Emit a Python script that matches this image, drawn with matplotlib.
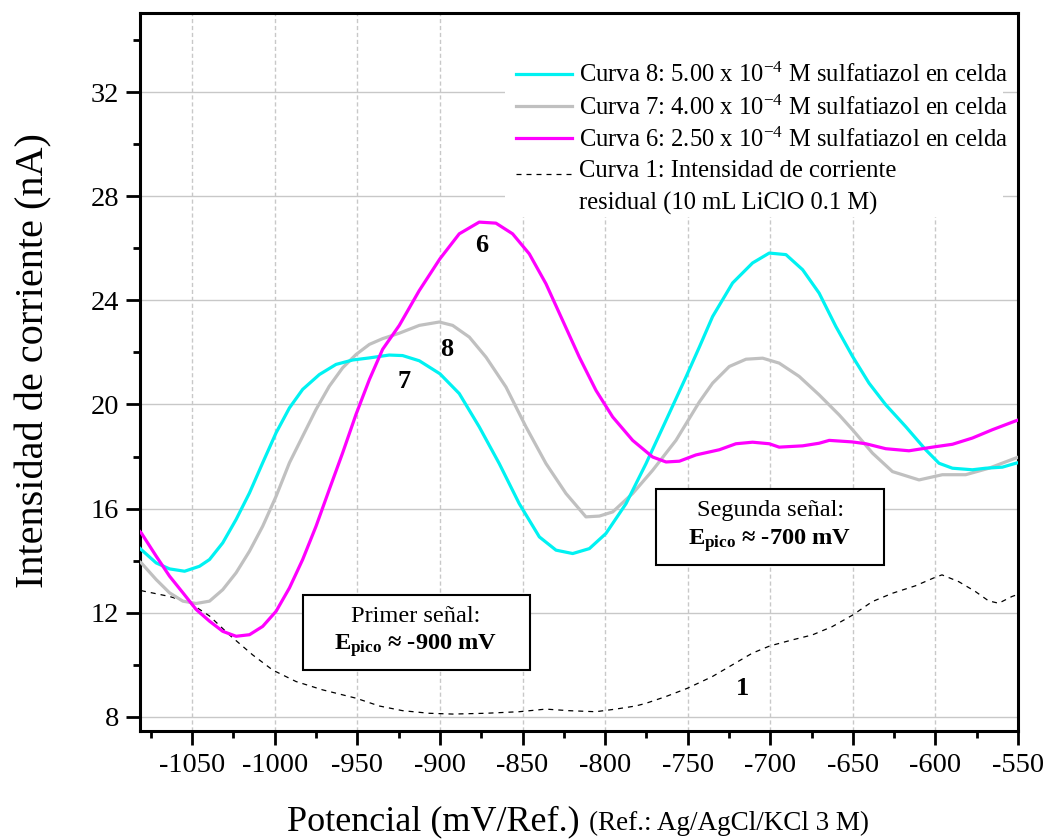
import matplotlib
matplotlib.use('Agg')
import matplotlib.pyplot as plt
from matplotlib.ticker import MultipleLocator
from matplotlib.patches import Rectangle
from matplotlib.offsetbox import TextArea, VPacker, HPacker, DrawingArea, AnnotationBbox

plt.rcParams['font.family'] = ['Liberation Serif', 'DejaVu Serif']
plt.rcParams['mathtext.fontset'] = 'custom'
plt.rcParams['mathtext.rm'] = 'Liberation Serif'
plt.rcParams['mathtext.bf'] = 'Liberation Serif:bold'
plt.rcParams['mathtext.it'] = 'Liberation Serif:italic'
plt.rcParams['axes.unicode_minus'] = False

# curva 8 (5.00e-4 M)
x8 = [-1083, -1080.8, -1071.8, -1063.7, -1054.6, -1045.6, -1039.5, -1031.5, -1023.4, -1015.3,
      -1007.3, -999.2, -991.1, -983.1, -973.0, -962.9, -952.8, -942.7, -930.7, -922.6,
      -912.5, -900, -888.3, -876.2, -864.1, -852.0, -839.8, -829.7, -819.6, -809.5,
      -799.5, -787.3, -775.2, -763.1, -751.0, -742.9, -734.9, -722.8, -710.7, -700.6,
      -690.5, -680.4, -670.4, -660.3, -650.2, -640.2, -630.1, -618.0, -605.9, -597.8,
      -589.7, -577.6, -569.6, -559.5, -551.4, -550]
y8 = [14.55, 14.42, 13.91, 13.68, 13.59, 13.78, 14.04, 14.68, 15.58, 16.60,
      17.76, 18.91, 19.87, 20.58, 21.15, 21.54, 21.71, 21.79, 21.90, 21.88,
      21.68, 21.18, 20.42, 19.14, 17.73, 16.19, 14.91, 14.40, 14.27, 14.46,
      15.04, 16.19, 17.73, 19.39, 21.06, 22.21, 23.38, 24.67, 25.44, 25.82,
      25.76, 25.18, 24.28, 23.00, 21.85, 20.82, 19.99, 19.15, 18.26, 17.74,
      17.55, 17.49, 17.55, 17.59, 17.74, 17.76]

# curva 7 (4.00e-4 M)
x7 = [-1083, -1080.8, -1071.8, -1063.7, -1055.6, -1047.6, -1039.5, -1031.5, -1023.4, -1015.3,
      -1007.3, -999.2, -991.1, -983.1, -975.0, -967.0, -958.9, -950.8, -942.7, -934.7,
      -924.6, -912.5, -900.4, -892.3, -882.2, -872.1, -860.0, -847.9, -835.8, -823.7,
      -811.6, -803.5, -795.4, -783.3, -771.2, -757.1, -742.9, -734.9, -724.8, -714.7,
      -704.6, -694.6, -682.5, -670.4, -658.3, -650.2, -638.1, -626.0, -609.9, -595.8,
      -581.7, -567.6, -551.4, -550]
y7 = [14.0, 13.91, 13.27, 12.76, 12.44, 12.35, 12.44, 12.88, 13.53, 14.36,
      15.32, 16.47, 17.76, 18.78, 19.81, 20.70, 21.41, 21.92, 22.31, 22.53,
      22.74, 23.04, 23.17, 23.04, 22.59, 21.82, 20.67, 19.14, 17.73, 16.58,
      15.68, 15.71, 15.87, 16.58, 17.47, 18.62, 20.10, 20.82, 21.46, 21.74,
      21.78, 21.59, 21.08, 20.37, 19.60, 19.03, 18.13, 17.42, 17.10, 17.30,
      17.30, 17.55, 17.94, 17.97]

# curva 6 (2.50e-4 M)
x6 = [-1083, -1080.8, -1071.8, -1063.7, -1055.6, -1047.6, -1039.5, -1031.5, -1023.4, -1015.3,
      -1007.3, -999.2, -991.1, -983.1, -975.0, -967.0, -958.9, -950.8, -942.7, -934.7,
      -924.6, -912.5, -900, -888.3, -876.2, -866.1, -856.0, -845.9, -835.8, -825.7,
      -815.6, -805.5, -795.4, -783.3, -771.2, -763.1, -755.0, -745.0, -730.8, -720.8,
      -710.7, -700.6, -694.6, -680.4, -670.4, -664.3, -650.2, -642.1, -630.1, -616.0,
      -601.8, -589.7, -577.6, -565.5, -551.4, -550]
y6 = [15.2, 15.06, 14.17, 13.40, 12.76, 12.12, 11.67, 11.28, 11.09, 11.15,
      11.47, 12.05, 12.95, 14.04, 15.32, 16.73, 18.14, 19.62, 20.96, 22.12,
      23.04, 24.38, 25.60, 26.56, 27.01, 26.97, 26.56, 25.79, 24.64, 23.23,
      21.82, 20.54, 19.52, 18.62, 17.98, 17.79, 17.82, 18.06, 18.26, 18.49,
      18.55, 18.49, 18.36, 18.41, 18.51, 18.62, 18.56, 18.49, 18.30, 18.22,
      18.36, 18.47, 18.71, 19.03, 19.37, 19.40]

# curva 1 (corriente residual)
x1 = [-1081, -1079.8, -1063.7, -1051.6, -1039.5, -1027.4, -1013.3, -1001.2, -987.1, -971.0,
      -950.8, -936.7, -922.6, -906.5, -892.3, -872.2, -852.0, -835.9, -821.8, -805.7,
      -793.6, -781.5, -775.4, -763.3, -750.2, -735.1, -723.0, -710.9, -700.2, -686.7,
      -674.6, -662.5, -650, -638.3, -626.2, -612.1, -600, -596.0, -585.9, -575.8,
      -567.8, -561.7, -553.6, -550]
y1 = [12.85, 12.83, 12.62, 12.38, 11.87, 11.14, 10.37, 9.79, 9.35, 9.03,
      8.71, 8.41, 8.23, 8.13, 8.10, 8.13, 8.19, 8.29, 8.23, 8.19,
      8.29, 8.41, 8.51, 8.77, 9.09, 9.54, 9.99, 10.44, 10.72, 10.95,
      11.14, 11.46, 11.91, 12.42, 12.74, 13.03, 13.36, 13.45, 13.19, 12.81,
      12.45, 12.36, 12.62, 12.70]

labels = [r'Curva 8: 5.00 x 10$^{-4}$ M sulfatiazol en celda',
          r'Curva 7: 4.00 x 10$^{-4}$ M sulfatiazol en celda',
          r'Curva 6: 2.50 x 10$^{-4}$ M sulfatiazol en celda',
          'Curva 1: Intensidad de corriente\nresidual (10 mL LiClO 0.1 M)']

fig = plt.figure(figsize=(10.47, 8.4), dpi=100)
ax = fig.add_axes([0.1337, 0.1298, 0.8386, 0.8551])

ax.plot(x8, y8, color='#00f2f2', lw=2.3, label=labels[0], zorder=4)
ax.plot(x7, y7, color='#c0c0c0', lw=2.3, label=labels[1], zorder=3)
ax.plot(x6, y6, color='#ff00ff', lw=2.3, label=labels[2], zorder=5)
ax.plot(x1, y1, color='black', lw=0.9, ls=(0, (4, 4)), label=labels[3], zorder=2)

ax.set_xlim(-1081.6, -550)
ax.set_ylim(7.45, 35.06)
ax.xaxis.set_major_locator(MultipleLocator(50))
ax.xaxis.set_minor_locator(MultipleLocator(25))
ax.yaxis.set_minor_locator(MultipleLocator(2))
ax.set_yticks(range(8, 33, 4))
ax.tick_params(which='major', direction='out', length=10, width=2, labelsize=20.5, pad=5)
ax.tick_params(which='minor', direction='out', length=5, width=2)
ax.tick_params(axis='x', pad=6)
for s in ax.spines.values():
    s.set_linewidth(2.2)

ax.grid(axis='y', which='major', color='#c8c8c8', lw=1, ls='-', zorder=0)
ax.grid(axis='x', which='major', color='#c8c8c8', lw=1, ls=(0, (3, 2)), zorder=0)
ax.set_axisbelow(True)

# white area behind the legend (hides grid)
ax.add_patch(Rectangle((0.4157, 0.7156), 0.567, 0.2844, transform=ax.transAxes,
                       fc='white', ec='none', zorder=1))
leg = ax.legend(loc='upper left', bbox_to_anchor=(0.4282, 0.930), fontsize=17.7,
                frameon=False, handlelength=2.3, handletextpad=0.25, labelspacing=0.33,
                borderpad=0, borderaxespad=0)
for t in leg.get_texts():
    t.set_linespacing(1.55)
# dashed handle next to the first line of its two-line label
ld = leg.get_lines()[3]
ld.set_ydata([v + 10 for v in ld.get_ydata()])

for txt, xa, ya in [('6', -875, 26.1), ('8', -896, 22.1), ('7', -922, 20.9), ('1', -717, 9.1)]:
    ax.text(xa, ya, txt, fontsize=19, fontweight='bold', ha='center', va='center', zorder=7)


def caja(titulo, valor, xy):
    t1 = TextArea(titulo, textprops=dict(fontsize=17.6))
    t2 = TextArea(r'$\mathbf{E_{pico}}$ ≈ ' + valor, textprops=dict(fontsize=17.6, fontweight='bold'))
    col = VPacker(children=[t1, t2], align='center', pad=0, sep=4)
    fila = HPacker(children=[DrawingArea(15, 1), col, DrawingArea(15, 1)], align='center', pad=8, sep=0)
    ab = AnnotationBbox(fila, xy, xycoords='data', frameon=True, pad=0,
                        bboxprops=dict(fc='white', ec='black', lw=1.5), zorder=7)
    ax.add_artist(ab)


caja('Primer señal:', '-900 mV', (-914.4, 11.23))
caja('Segunda señal:', '-700 mV', (-700.1, 15.29))

fig.text(0.032, 0.571, 'Intensidad de corriente (nA)', rotation=90, fontsize=29,
         ha='center', va='center')
fig.text(0.274, 0.012, 'Potencial (mV/Ref.)', fontsize=26, ha='left', va='baseline')
fig.text(0.563, 0.012, '(Ref.: Ag/AgCl/KCl 3 M)', fontsize=19.5, ha='left', va='baseline')

fig.savefig('out.png', dpi=100)
